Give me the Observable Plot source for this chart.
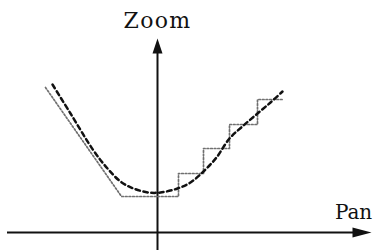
<!DOCTYPE html>
<html>
<head>
<meta charset="utf-8">
<script src="https://cdn.jsdelivr.net/npm/d3@7"></script>
<script src="https://cdn.jsdelivr.net/npm/@observablehq/plot@0.6"></script>
<style>
  html, body { margin: 0; padding: 0; background: #fff; }
  #chart svg { display: block; }
</style>
</head>
<body>
<div id="chart"></div>
<script>
// Pan (x) and Zoom (y), arbitrary units, origin at the axes crossing
const stepPan  = [-11.2, -3.6, 2.1, 2.1, 4.6, 4.6, 7.2, 7.2, 10.0, 10.0, 12.5];
const stepZoom = [14.5, 3.6, 3.6, 5.9, 5.9, 8.4, 8.4, 10.8, 10.8, 13.3, 13.3];

const smoothPan  = [-10.5, -8.7, -6.4, -5.0, -3.7, -2.4, -0.9, 0.3, 2.0, 3.3, 4.6, 5.9, 7.2, 8.6, 10.0, 11.3, 12.5];
const smoothZoom = [14.8, 11.9, 8.2, 6.4, 5.1, 4.4, 4.0, 4.0, 4.4, 5.0, 6.1, 7.5, 9.4, 10.7, 11.9, 13.0, 14.1];

const axisLabels = ["Pan", "Zoom"];

const stepData = stepPan.map((x, i) => ({x, y: stepZoom[i]}));
const smoothData = smoothPan.map((x, i) => ({x, y: smoothZoom[i]}));

const serif = "DejaVu Serif";
const ctx = document.createElement("canvas").getContext("2d");
function spacing(s, size, target) {
  ctx.font = `${size}px "${serif}", serif`;
  return (target - ctx.measureText(s).width) / s.length;
}

const arrowUp = {draw(c) { c.moveTo(0, 0); c.lineTo(-5, 15); c.lineTo(5, 15); c.closePath(); }};
const arrowRight = {draw(c) { c.moveTo(0, 0); c.lineTo(-19, -5); c.lineTo(-19, 5); c.closePath(); }};

const chart = Plot.plot({
  width: 375,
  height: 250,
  margin: 0,
  style: {background: "#fff"},
  x: {domain: [-15.7, 21.8], axis: null},
  y: {domain: [-1.8, 23.2], axis: null},
  marks: [
    Plot.ruleY([0], {x1: -15.0, x2: 19.8, stroke: "#111", strokeWidth: 2}),
    Plot.ruleX([0], {y1: -1.8, y2: 18.0, stroke: "#111", strokeWidth: 2}),
    Plot.dot([{x: 0, y: 19.4}], {x: "x", y: "y", symbol: arrowUp, fill: "#111", stroke: "none"}),
    Plot.dot([{x: 21.4, y: 0}], {x: "x", y: "y", symbol: arrowRight, fill: "#111", stroke: "none"}),
    Plot.line(stepData, {x: "x", y: "y", stroke: "#707070", strokeWidth: 1.7, strokeDasharray: "1.7,1.9"}),
    Plot.line(smoothData, {x: "x", y: "y", curve: "catmull-rom", stroke: "#111", strokeWidth: 2.5, strokeDasharray: "4.5,3.5"}),
    Plot.text([axisLabels[1]], {x: 0, y: 20.5, text: d => d, textAnchor: "middle", lineAnchor: "bottom", fontSize: 22, fontFamily: serif, fill: "#111", className: "zoomlabel"}),
    Plot.text([axisLabels[0]], {x: 19.6, y: 1.4, text: d => d, textAnchor: "middle", lineAnchor: "bottom", fontSize: 20, fontFamily: serif, fill: "#111", className: "panlabel"})
  ]
});
document.getElementById("chart").appendChild(chart);
d3.select(chart).selectAll(".zoomlabel text")
  .style("font-family", `"${serif}", serif`)
  .style("letter-spacing", `${spacing(axisLabels[1], 22, 68)}px`);
d3.select(chart).selectAll(".panlabel text")
  .style("font-family", `"${serif}", serif`)
  .style("letter-spacing", `${spacing(axisLabels[0], 20, 37)}px`);
</script>
</body>
</html>
